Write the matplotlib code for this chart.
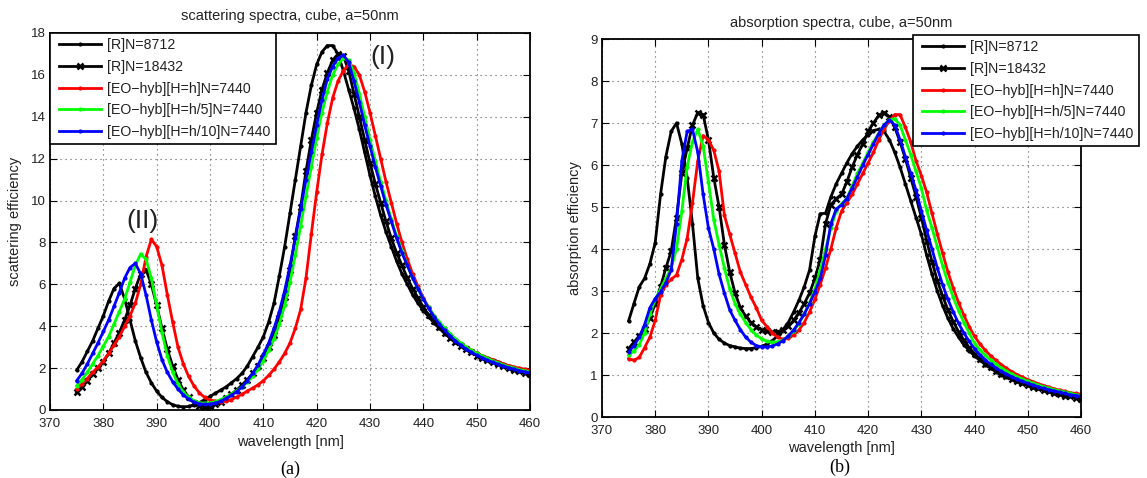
import numpy as np
import matplotlib
matplotlib.use("Agg")
import matplotlib.pyplot as plt
from matplotlib.legend_handler import HandlerLine2D

plt.rcParams['font.family'] = ['Liberation Sans', 'DejaVu Sans']

# ---------------- data ----------------
wavelength = list(range(375, 461))  # nm, 1 nm step

labels = ["[R]N=8712", "[R]N=18432", "[EO\u2212hyb][H=h]N=7440",
          "[EO\u2212hyb][H=h/5]N=7440", "[EO\u2212hyb][H=h/10]N=7440"]

# scattering efficiency
sca_R8712 = [1.9, 2.3, 2.8, 3.3, 3.9, 4.5, 5.2, 5.8, 6.05, 5.3,
             4.3, 3.3, 2.5, 1.8, 1.3, 0.9, 0.6, 0.4, 0.25, 0.18,
             0.15, 0.17, 0.25, 0.35, 0.5, 0.65, 0.8, 0.95, 1.1, 1.3,
             1.5, 1.75, 2.1, 2.55, 3.0, 3.5, 4.2, 5.1, 6.4, 7.8,
             9.4, 11.0, 12.6, 14.2, 15.5, 16.5, 17.1, 17.4, 17.4, 17.0,
             16.2, 15.3, 14.4, 13.4, 12.3, 11.2, 10.2, 9.3, 8.5, 7.8,
             7.1, 6.5, 6.0, 5.5, 5.1, 4.75, 4.45, 4.15, 3.9, 3.65,
             3.45, 3.25, 3.1, 2.95, 2.8, 2.7, 2.58, 2.47, 2.37, 2.27,
             2.18, 2.1, 2.02, 1.94, 1.86, 1.78]
sca_R18432 = [0.85, 1.1, 1.4, 1.7, 2.0, 2.3, 2.7, 3.2, 3.7, 4.3,
              5.0, 5.8, 6.5, 6.7, 6.0, 5.0, 3.9, 2.9, 2.1, 1.45,
              0.95, 0.6, 0.35, 0.2, 0.15, 0.18, 0.27, 0.4, 0.55, 0.75,
              0.95, 1.2, 1.45, 1.75, 2.1, 2.5, 3.0, 3.6, 4.4, 5.4,
              6.7, 8.3, 9.7, 11.4, 12.9, 14.2, 15.3, 16.1, 16.7, 17.0,
              16.9, 16.2, 15.1, 14.0, 12.9, 11.8, 10.8, 9.9, 9.0, 8.2,
              7.5, 6.9, 6.3, 5.8, 5.35, 4.9, 4.55, 4.25, 3.95, 3.7,
              3.45, 3.25, 3.05, 2.9, 2.75, 2.6, 2.5, 2.4, 2.3, 2.2,
              2.1, 2.0, 1.9, 1.85, 1.78, 1.72]
sca_EO_h = [1.0, 1.25, 1.5, 1.8, 2.05, 2.35, 2.7, 3.1, 3.5, 4.0,
            4.5, 5.1, 6.0, 7.3, 8.15, 7.8, 6.9, 5.5, 4.2, 3.0,
            2.2, 1.6, 1.15, 0.82, 0.6, 0.48, 0.42, 0.4, 0.42, 0.5,
            0.62, 0.75, 0.9, 1.05, 1.2, 1.4, 1.65, 1.95, 2.3, 2.7,
            3.2, 3.9, 4.8, 6.3, 8.4, 10.4, 12.2, 13.7, 14.9, 15.7,
            16.2, 16.5, 16.4, 16.0, 15.2, 14.2, 13.1, 12.0, 10.9, 9.9,
            8.9, 8.0, 7.2, 6.5, 5.9, 5.35, 4.9, 4.5, 4.15, 3.85,
            3.6, 3.35, 3.15, 3.0, 2.85, 2.7, 2.6, 2.5, 2.4, 2.3,
            2.2, 2.12, 2.05, 2.0, 1.95, 1.9]
sca_EO_h5 = [1.15, 1.45, 1.8, 2.2, 2.6, 3.05, 3.5, 4.1, 4.7, 5.3,
             6.1, 6.9, 7.45, 7.2, 6.3, 5.0, 3.7, 2.6, 1.8, 1.25,
             0.85, 0.6, 0.45, 0.35, 0.32, 0.34, 0.4, 0.5, 0.62, 0.76,
             0.92, 1.1, 1.35, 1.6, 1.95, 2.35, 2.85, 3.4, 4.1, 5.0,
             6.1, 7.4, 8.8, 10.2, 11.6, 13.0, 14.2, 15.2, 16.0, 16.5,
             16.8, 16.7, 16.1, 15.1, 14.0, 12.9, 11.9, 10.9, 10.0, 9.1,
             8.3, 7.6, 6.9, 6.3, 5.8, 5.3, 4.9, 4.5, 4.2, 3.9,
             3.65, 3.4, 3.2, 3.0, 2.85, 2.7, 2.58, 2.46, 2.35, 2.25,
             2.15, 2.07, 2.0, 1.93, 1.87, 1.82]
sca_EO_h10 = [1.4, 1.75, 2.2, 2.7, 3.2, 3.75, 4.3, 4.95, 5.6, 6.3,
              6.8, 7.0, 6.5, 5.5, 4.3, 3.25, 2.4, 1.8, 1.35, 1.0,
              0.72, 0.52, 0.38, 0.3, 0.27, 0.28, 0.33, 0.42, 0.55, 0.7,
              0.88, 1.1, 1.4, 1.75, 2.15, 2.65, 3.2, 3.9, 4.7, 5.7,
              6.9, 8.2, 9.6, 11.0, 12.3, 13.6, 14.8, 15.8, 16.4, 16.8,
              16.95, 16.6, 15.7, 14.7, 13.6, 12.6, 11.6, 10.7, 9.8, 9.0,
              8.2, 7.5, 6.9, 6.3, 5.8, 5.3, 4.85, 4.45, 4.1, 3.8,
              3.55, 3.3, 3.1, 2.92, 2.76, 2.62, 2.5, 2.38, 2.28, 2.18,
              2.1, 2.02, 1.95, 1.88, 1.82, 1.77]

# absorption efficiency
abs_R8712 = [2.29, 2.7, 3.1, 3.3, 3.65, 4.15, 5.3, 6.2, 6.8, 7.0,
             6.5, 5.7, 4.6, 3.3, 2.65, 2.25, 2.0, 1.85, 1.76, 1.7,
             1.67, 1.64, 1.63, 1.63, 1.65, 1.68, 1.74, 1.82, 1.93, 2.08,
             2.25, 2.5, 2.78, 3.1, 3.5, 4.3, 4.84, 4.85, 5.24, 5.55,
             5.8, 6.05, 6.27, 6.45, 6.6, 6.72, 6.82, 6.85, 6.8, 6.6,
             6.3, 5.95, 5.55, 5.15, 4.75, 4.35, 3.85, 3.4, 3.0, 2.65,
             2.35, 2.1, 1.9, 1.72, 1.58, 1.45, 1.35, 1.25, 1.16, 1.08,
             1.01, 0.95, 0.9, 0.85, 0.8, 0.76, 0.72, 0.68, 0.64, 0.61,
             0.58, 0.55, 0.52, 0.5, 0.47, 0.45]
abs_R18432 = [1.63, 1.78, 1.93, 2.1, 2.35, 2.7, 3.1, 3.55, 3.95, 4.75,
              5.8, 6.4, 6.95, 7.25, 7.2, 6.6, 5.7, 5.0, 4.1, 3.45,
              2.95, 2.6, 2.4, 2.25, 2.15, 2.08, 2.04, 2.02, 2.03, 2.08,
              2.16, 2.3, 2.48, 2.7, 2.95, 3.3, 3.75, 4.6, 5.05, 5.2,
              5.3, 5.6, 5.95, 6.25, 6.5, 6.8, 7.0, 7.18, 7.25, 7.15,
              6.9, 6.55, 6.15, 5.7, 5.25, 4.75, 4.2, 3.7, 3.25, 2.88,
              2.55, 2.27, 2.03, 1.83, 1.65, 1.5, 1.38, 1.27, 1.18, 1.1,
              1.03, 0.97, 0.91, 0.86, 0.81, 0.76, 0.72, 0.68, 0.64, 0.61,
              0.57, 0.54, 0.51, 0.49, 0.46, 0.44]
abs_EO_h = [1.39, 1.35, 1.42, 1.65, 1.9, 2.3, 2.9, 3.15, 3.28, 3.38,
            3.75, 4.25, 5.1, 6.1, 6.7, 6.6, 6.35, 5.85, 4.8, 4.35,
            3.9, 3.45, 3.15, 2.85, 2.6, 2.3, 2.15, 2.0, 1.9, 1.85,
            1.87, 1.95, 2.07, 2.25, 2.5, 2.8, 3.15, 3.55, 4.0, 4.5,
            4.9, 5.1, 5.3, 5.55, 5.8, 6.05, 6.3, 6.6, 6.85, 7.05,
            7.2, 7.2, 6.9, 6.55, 6.1, 5.75, 5.35, 4.85, 4.36, 3.9,
            3.45, 3.07, 2.72, 2.42, 2.15, 1.92, 1.74, 1.59, 1.46, 1.35,
            1.25, 1.16, 1.08, 1.01, 0.95, 0.89, 0.84, 0.79, 0.75, 0.71,
            0.67, 0.64, 0.61, 0.58, 0.56, 0.54]
abs_EO_h5 = [1.47, 1.58, 1.72, 2.0, 2.45, 2.8, 3.05, 3.3, 3.55, 4.0,
             4.9, 5.96, 6.55, 6.85, 6.45, 5.6, 4.7, 4.1, 3.55, 3.05,
             2.7, 2.45, 2.25, 2.08, 1.95, 1.86, 1.8, 1.78, 1.79, 1.83,
             1.92, 2.05, 2.22, 2.45, 2.72, 3.05, 3.5, 4.0, 4.5, 4.9,
             5.08, 5.2, 5.5, 5.8, 6.05, 6.3, 6.55, 6.75, 6.95, 7.08,
             7.1, 6.95, 6.6, 6.25, 5.85, 5.45, 4.92, 4.5, 4.05, 3.6,
             3.2, 2.85, 2.53, 2.25, 2.0, 1.75, 1.6, 1.47, 1.36, 1.26,
             1.17, 1.09, 1.02, 0.96, 0.9, 0.85, 0.8, 0.76, 0.72, 0.68,
             0.65, 0.62, 0.59, 0.56, 0.53, 0.51]
abs_EO_h10 = [1.55, 1.7, 1.9, 2.2, 2.6, 2.82, 2.98, 3.2, 3.5, 4.6,
              6.1, 6.8, 6.85, 6.3, 5.3, 4.5, 4.0, 3.4, 2.95, 2.55,
              2.3, 2.08, 1.9, 1.78, 1.7, 1.67, 1.67, 1.69, 1.74, 1.82,
              1.93, 2.07, 2.25, 2.45, 2.7, 2.98, 3.3, 3.85, 4.6, 4.95,
              5.05, 5.2, 5.45, 5.72, 6.0, 6.25, 6.5, 6.75, 6.95, 7.07,
              6.95, 6.6, 6.2, 5.8, 5.4, 4.9, 4.45, 4.0, 3.55, 3.15,
              2.8, 2.5, 2.23, 2.0, 1.8, 1.62, 1.48, 1.36, 1.26, 1.17,
              1.09, 1.02, 0.96, 0.9, 0.85, 0.8, 0.76, 0.72, 0.68, 0.65,
              0.62, 0.59, 0.56, 0.53, 0.51, 0.49]

xticks = list(range(370, 461, 10))
sca_yticks = list(range(0, 19, 2))
abs_yticks = list(range(0, 10, 1))

# ---------------- styles ----------------
styles = [dict(color='k', marker='.', ms=4),
          dict(color='k', marker='x', ms=5, mew=1.8),
          dict(color='#ff0000', marker='.', ms=4),
          dict(color='#00ff00', marker='.', ms=4),
          dict(color='#0000ff', marker='.', ms=4)]

W, H = 1147, 478
fig = plt.figure(figsize=(W / 100, H / 100), dpi=100)

def px_axes(x0, y0, x1, y1):
    return fig.add_axes([x0 / W, 1 - y1 / H, (x1 - x0) / W, (y1 - y0) / H])

ax1 = px_axes(50, 33, 530, 410)
ax2 = px_axes(602, 39, 1081, 417)

tcol = '#222222'

def style_axes(ax, yticks, ylim):
    ax.set_xlim(370, 460)
    ax.set_ylim(*ylim)
    ax.set_xticks(xticks)
    ax.set_yticks(yticks)
    ax.tick_params(direction='in', top=True, right=True, length=5,
                   width=0.8, labelsize=9.5, colors='k')
    ax.tick_params(axis='x', pad=5.5)
    ax.tick_params(axis='y', pad=3)
    for tl in ax.get_xticklabels() + ax.get_yticklabels():
        tl.set_color(tcol)
    ax.grid(True, color='0.35', linestyle=(0, (1, 3.5)), linewidth=0.8)
    for s in ax.spines.values():
        s.set_linewidth(1.3)
        s.set_color('k')

sca_series = [sca_R8712, sca_R18432, sca_EO_h, sca_EO_h5, sca_EO_h10]
abs_series = [abs_R8712, abs_R18432, abs_EO_h, abs_EO_h5, abs_EO_h10]

for ax, series in ((ax1, sca_series), (ax2, abs_series)):
    for vals, st, lab in zip(series, styles, labels):
        ax.plot(wavelength, vals, lw=2.0, label=lab, **st)

style_axes(ax1, sca_yticks, (0, 18))
style_axes(ax2, abs_yticks, (0, 9))

# titles (explicit y disables auto positioning)
ax1.set_title("scattering spectra, cube, a=50nm", fontsize=10.5, color=tcol,
              y=1 + (33 - 16) / 377, va='center', pad=0)
ax2.set_title("absorption spectra, cube, a=50nm", fontsize=10.5, color=tcol,
              y=1 + (39 - 23) / 378, va='center', pad=0)

# axis labels
ax1.set_xlabel("wavelength [nm]", fontsize=10.5, color=tcol, va='center')
ax1.xaxis.set_label_coords(0.5, -(442 - 410) / 377)
ax2.set_xlabel("wavelength [nm]", fontsize=10.5, color=tcol, va='center')
ax2.xaxis.set_label_coords(0.5, -(448 - 417) / 378)
ax1.set_ylabel("scattering efficiency", fontsize=10.5, color=tcol, va='center')
ax1.yaxis.set_label_coords(-(50 - 15.5) / 480, 0.5)
ax2.set_ylabel("absorption efficiency", fontsize=10.5, color=tcol, va='center')
ax2.yaxis.set_label_coords(-(602 - 575) / 479, 0.5)

# peak annotations
ax1.text(432.5, 16.85, "(I)", fontsize=19, color=tcol, ha='center', va='center')
ax1.text(387.3, 9.0, "(II)", fontsize=19, color=tcol, ha='center', va='center')

# legends
leg_fs = 10.2
leg_kw = dict(fontsize=leg_fs, frameon=True, fancybox=False, framealpha=1,
              edgecolor='k', handlelength=3.25, handletextpad=0.45,
              labelspacing=0.55, borderpad=0.35, borderaxespad=0,
              handler_map={matplotlib.lines.Line2D: HandlerLine2D(xpad=0.3)})
l1 = ax1.legend(loc='upper left', **leg_kw)
l2 = ax2.legend(loc='upper left', bbox_to_anchor=(913 / W, 1 - 35 / H),
                bbox_transform=fig.transFigure, **leg_kw)
for lg in (l1, l2):
    lg.get_frame().set_linewidth(1.2)
    for t in lg.get_texts():
        t.set_color(tcol)

fig.text(290 / W, 1 - 469 / H, "(a)", fontsize=13, family='Liberation Serif',
         ha='center', va='center')
fig.text(840 / W, 1 - 467 / H, "(b)", fontsize=13, family='Liberation Serif',
         ha='center', va='center')

fig.savefig("out.png", dpi=100, facecolor='white')
